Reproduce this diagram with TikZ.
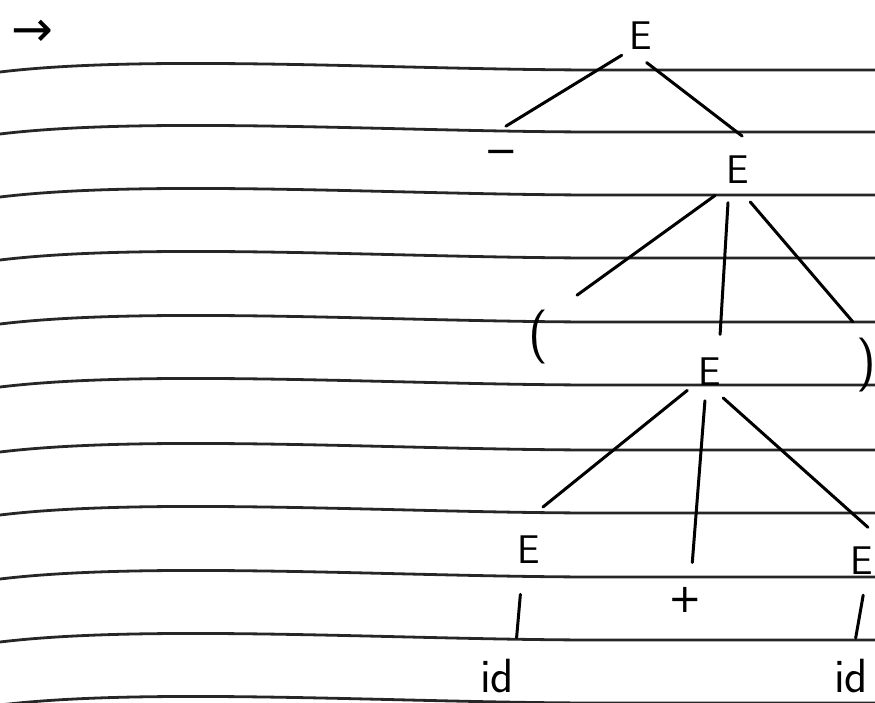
\documentclass[tikz,border=0pt]{standalone}
\usepackage{fontspec}
\newfontfamily\dejavu{DejaVu Sans}
\begin{document}
\begin{tikzpicture}[x=1pt,y=-1pt,
    garis/.style={line width=3pt,line cap=round},
    baris/.style={line width=2.8pt,black!85},
    lbl/.style={circle,inner sep=0pt,font=\fontsize{40}{40}\sffamily},
    kurung/.style={lbl,font=\fontsize{54}{54}\sffamily},
    daun/.style={lbl,font=\fontsize{48}{48}\sffamily}]
  \useasboundingbox (0,0) rectangle (875,702);

  % Garis buku
  \foreach \y in {70,132,195,258,322,385,450,513,577,640,703}
    {\draw[baris] (0,\y+2) .. controls (150,\y-16) and (400,\y) .. (600,\y) -- (875,\y);}

  \node[lbl,minimum size=40pt,font=\fontsize{50}{50}\dejavu] (panah) at (32,33) {→};

  % Simpul pohon
  \node[lbl,minimum size=54pt] (e1) at (641,36) {E};
  \node[lbl,minimum size=62pt] (minus) at (501,157) {\dejavu −};
  \node[lbl,minimum size=68pt] (e2) at (738,170) {E};
  \node[kurung,minimum size=114pt] (lp) at (538,337) {(};
  \node[lbl,minimum size=58pt] (e3) at (710,372) {E};
  \node[kurung,minimum size=90pt] (rp) at (866,365) {)};
  \node[lbl,minimum size=90pt] (e4) at (529,550) {E};
  \node[lbl,minimum size=76pt] (plus) at (685,600) {\dejavu +};
  \node[lbl,minimum size=68pt] (e5) at (862,561) {E};
  \node[daun,minimum size=86pt] (id1) at (497,676) {id};
  \node[daun,minimum size=76pt] (id2) at (851,676) {id};

  % Cabang
  \foreach \a/\b in {e1.225/minus.81, e1.282/e2.83, e2.228/lp.47,
      e2.291/rp.107, e3.219/e4.72, e3.260/plus.79, e3.297/e5.80,
      e4.259/id1.63, e5.272/id2.83}
    {\draw[garis] (\a) -- (\b);}
  \draw[garis,shorten >=10pt] (e2.253) -- (e3.71);
\end{tikzpicture}
\end{document}
